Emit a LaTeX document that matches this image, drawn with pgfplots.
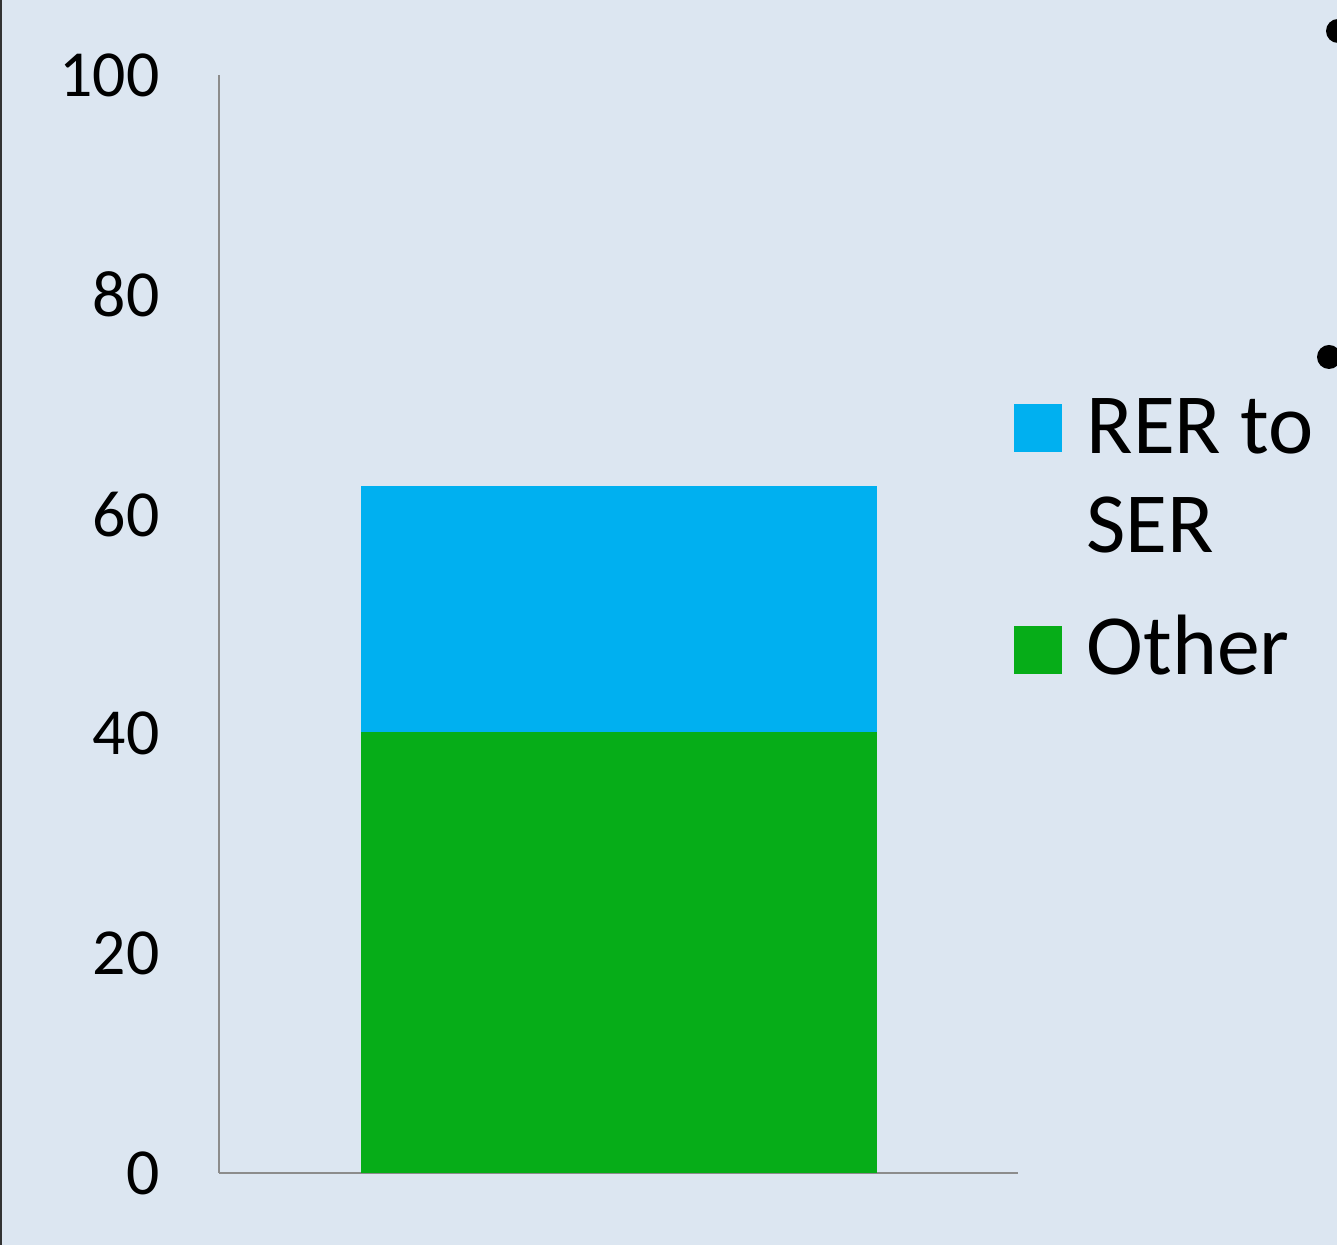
\documentclass[border=0pt]{standalone}
\usepackage{fontspec}
\setmainfont{Carlito}
\usepackage{pgfplots}
\pgfplotsset{compat=1.18}
\definecolor{bg}{RGB}{220,230,241}
\definecolor{rerblue}{RGB}{0,176,240}
\definecolor{othergreen}{RGB}{6,173,24}
\definecolor{axgray}{RGB}{140,140,140}
\begin{document}
\begin{tikzpicture}
\fill[bg] (0bp,0bp) rectangle (668.5bp,622.5bp);
\useasboundingbox (0bp,0bp) rectangle (668.5bp,622.5bp);
\draw[black!80, line width=1bp] (0.5bp,0bp) -- (0.5bp,622.5bp);
\fill[black] (669bp,607bp) circle (6bp);
\fill[black] (664.5bp,444bp) circle (6bp);
\begin{axis}[
  scale only axis, width=399.5bp, height=549bp,
  at={(109.5bp,36bp)}, anchor=south west,
  xmin=-1, xmax=1, ymin=0, ymax=100,
  ytick={0,20,...,100}, xtick=\empty,
  axis lines*=left,
  axis line style={axgray, line width=1bp},
  major tick length=0pt,
  ybar stacked, bar width=258bp,
  /pgf/number format/assume math mode=true,
  yticklabel style={font=\fontsize{33}{40}\selectfont, inner sep=0pt, xshift=-29.5bp},
  legend cell align=left,
  reverse legend,
  legend style={at={(rel axis cs:0.994,0.706)}, anchor=north west,
    draw=none, fill=none, inner sep=0pt,
    font=\fontsize{43}{50}\selectfont,
    nodes={align=left, inner sep=0pt},
    row sep=29.5bp, column sep=12.5bp},
]
\addplot[fill=othergreen, draw=none,
  legend image code/.code={\fill[othergreen] (0bp,-14bp) rectangle (24bp,10bp);}]
  coordinates {(0,40.2)};
\addplot[fill=rerblue, draw=none,
  legend image code/.code={\fill[rerblue] (0bp,12.5bp) rectangle (24bp,36.5bp);}]
  coordinates {(0,22.4)};
\legend{Other,{RER to\\SER}}
\end{axis}
\end{tikzpicture}
\end{document}
